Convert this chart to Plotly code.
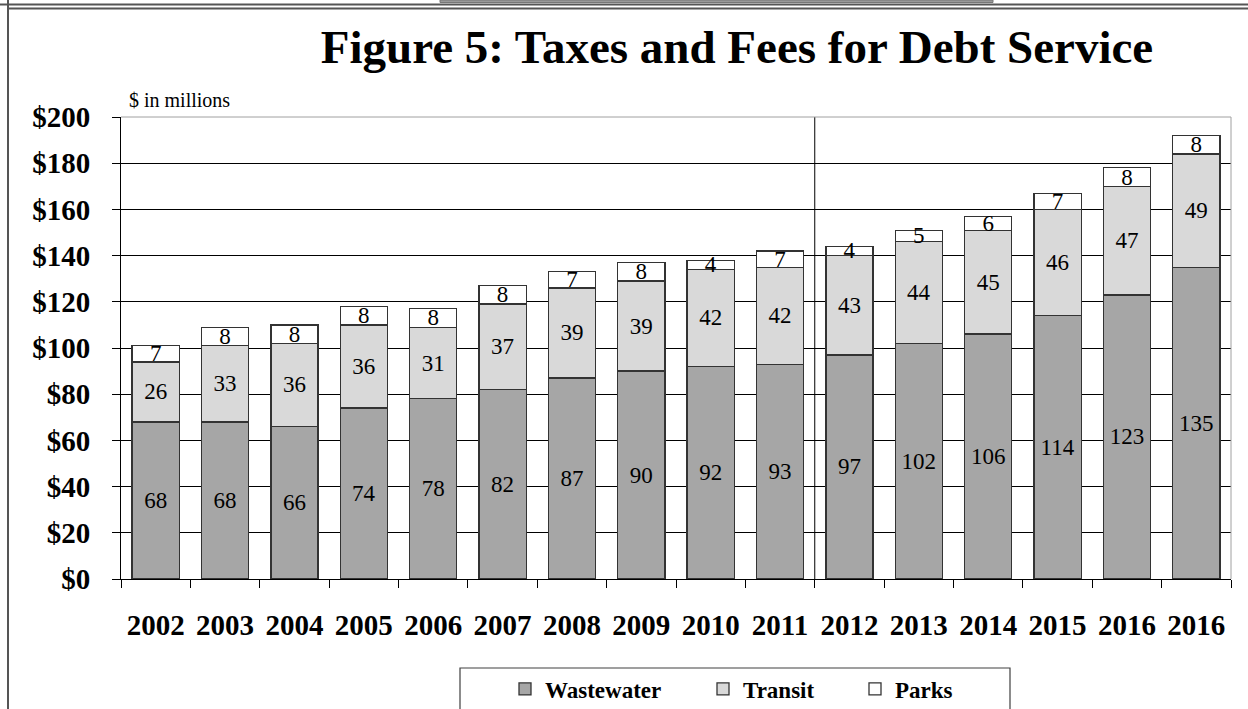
import plotly.graph_objects as go

years = ["2002", "2003", "2004", "2005", "2006", "2007", "2008", "2009",
         "2010", "2011", "2012", "2013", "2014", "2015", "2016", "2016"]
wastewater = [68, 68, 66, 74, 78, 82, 87, 90, 92, 93, 97, 102, 106, 114, 123, 135]
transit = [26, 33, 36, 36, 31, 37, 39, 39, 42, 42, 43, 44, 45, 46, 47, 49]
parks = [7, 8, 8, 8, 8, 8, 7, 8, 4, 7, 4, 5, 6, 7, 8, 8]
y_ticks = [0, 20, 40, 60, 80, 100, 120, 140, 160, 180, 200]
y_tick_labels = ["$0", "$20", "$40", "$60", "$80", "$100", "$120", "$140",
                 "$160", "$180", "$200"]

SERIF = "Times New Roman, Liberation Serif, serif"
W, H = 1248, 709
L, R, T, B = 121, 17, 117, 130
PW, PH = W - L - R, H - T - B


def px_x(p):
    return (p - L) / PW


def px_y(p):
    return (H - B - p) / PH


xpos = list(range(len(years)))

series = [
    ("Wastewater", wastewater, "#A6A6A6", "legend"),
    ("Transit", transit, "#D9D9D9", "legend2"),
    ("Parks", parks, "#FFFFFF", "legend3"),
]

fig = go.Figure()
for name, vals, color, lg in series:
    fig.add_trace(go.Bar(
        x=xpos, y=vals, name=name, legend=lg,
        marker=dict(color=color, line=dict(color="#333333", width=1.3)),
        text=[str(v) for v in vals],
        textposition="inside", insidetextanchor="middle",
        constraintext="none", textangle=0,
        textfont=dict(family=SERIF, size=23, color="black"),
        hoverinfo="skip",
    ))

shapes = [
    # divider between 2011 and 2012
    dict(type="line", xref="x", yref="paper", x0=9.5, x1=9.5, y0=0, y1=1,
         line=dict(color="black", width=1)),
    # plot area top/right border (light gray)
    dict(type="line", xref="paper", yref="paper", x0=0, x1=1, y0=1, y1=1,
         line=dict(color="#A0A0A0", width=1), layer="above"),
    dict(type="line", xref="paper", yref="paper", x0=1, x1=1, y0=0, y1=1,
         line=dict(color="#A0A0A0", width=1), layer="above"),
    # legend box
    dict(type="rect", xref="paper", yref="paper",
         x0=px_x(460), x1=px_x(1010), y0=px_y(715), y1=px_y(668),
         line=dict(color="#404040", width=1.2), fillcolor="rgba(0,0,0,0)"),
    # outer frame
    dict(type="line", xref="paper", yref="paper",
         x0=px_x(0), x1=px_x(W), y0=px_y(4.5), y1=px_y(4.5),
         line=dict(color="#555555", width=2)),
    dict(type="line", xref="paper", yref="paper",
         x0=px_x(8), x1=px_x(W), y0=px_y(8.5), y1=px_y(8.5),
         line=dict(color="#555555", width=2)),
    dict(type="line", xref="paper", yref="paper",
         x0=px_x(8), x1=px_x(8), y0=px_y(0), y1=px_y(H),
         line=dict(color="#555555", width=2)),
    dict(type="rect", xref="paper", yref="paper",
         x0=px_x(440), x1=px_x(993), y0=px_y(2.5), y1=px_y(0),
         line=dict(color="#777777", width=1), fillcolor="#999999"),
]

legend_common = dict(
    orientation="h", xanchor="left", yanchor="middle",
    xref="container", yref="container",
    y=1 - 689 / H, bgcolor="rgba(0,0,0,0)", borderwidth=0,
    font=dict(family=SERIF, size=23, color="black", weight="bold"),
    itemwidth=30,
)

fig.update_layout(
    width=W, height=H,
    margin=dict(l=L, r=R, t=T, b=B, autoexpand=False),
    paper_bgcolor="white", plot_bgcolor="white",
    barmode="stack", bargap=0.32,
    title=dict(
        text="Figure 5: Taxes and Fees for Debt Service",
        xref="paper", x=px_x(737), xanchor="center",
        yref="container", y=1 - 47 / H, yanchor="middle",
        font=dict(family=SERIF, size=47, color="black", weight="bold"),
    ),
    xaxis=dict(
        range=[-0.5, len(years) - 0.5],
        tickmode="array", tickvals=xpos, ticktext=years,
        ticks="", showgrid=False, zeroline=False,
        showline=True, linecolor="black", linewidth=1,
        tickfont=dict(family=SERIF, size=29, color="black", weight="bold"),
        ticklabelstandoff=20, automargin=False,
        minor=dict(tickmode="array",
                   tickvals=[i - 0.5 for i in range(len(years) + 1)],
                   ticks="outside", ticklen=8, tickcolor="black",
                   tickwidth=1, showgrid=False),
    ),
    yaxis=dict(
        range=[0, 200], tickmode="array", tickvals=y_ticks,
        ticktext=y_tick_labels,
        ticks="outside", ticklen=8, tickcolor="black",
        showgrid=True, gridcolor="black", gridwidth=1,
        zeroline=False, showline=True, linecolor="black", linewidth=1,
        tickfont=dict(family=SERIF, size=29, color="black", weight="bold"),
        ticklabelstandoff=16, automargin=False,
    ),
    legend=dict(x=505 / W, **legend_common),
    legend2=dict(x=703 / W, **legend_common),
    legend3=dict(x=855 / W, **legend_common),
    shapes=shapes,
    annotations=[dict(
        text="$ in millions", xref="paper", yref="paper",
        x=px_x(127), y=px_y(100), xanchor="left", yanchor="middle",
        showarrow=False,
        font=dict(family=SERIF, size=20, color="black"),
    )],
    showlegend=True,
)

fig.write_html(
    "out.html",
    config={"displayModeBar": False},
    post_script="document.body.style.margin='0';"
                "document.body.style.overflow='hidden';",
)
